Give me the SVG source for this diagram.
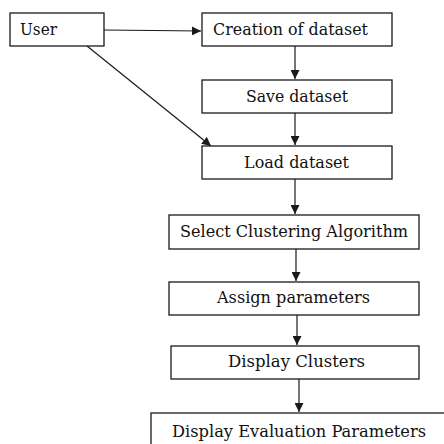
<svg xmlns="http://www.w3.org/2000/svg" width="444" height="444" viewBox="0 0 444 444">
<style>
.box{fill:#fff;stroke:#1a1a1a;stroke-width:1.3}
.t{font-family:"DejaVu Serif","Liberation Serif",serif;font-size:17px;fill:#111}
.c{stroke:#1a1a1a;stroke-width:1.2;fill:none}
</style>
<defs>
<marker id="ah" viewBox="0 0 10 10" refX="10" refY="5" markerWidth="9" markerHeight="9" markerUnits="userSpaceOnUse" orient="auto">
<path d="M0,0 L10,5 L0,10 Z" fill="#1a1a1a"/>
</marker>
</defs>
<rect width="444" height="444" fill="#fff"/>
<g id="connectors">
<line class="c" x1="104" y1="30" x2="201" y2="31" marker-end="url(#ah)"/>
<line class="c" x1="87" y1="46" x2="211" y2="146" marker-end="url(#ah)"/>
<line class="c" x1="295" y1="46" x2="295" y2="79" marker-end="url(#ah)"/>
<line class="c" x1="295" y1="113" x2="295" y2="145" marker-end="url(#ah)"/>
<line class="c" x1="295" y1="179" x2="295" y2="214" marker-end="url(#ah)"/>
<line class="c" x1="296" y1="249" x2="296" y2="281" marker-end="url(#ah)"/>
<line class="c" x1="297" y1="315" x2="297" y2="345" marker-end="url(#ah)"/>
<line class="c" x1="299" y1="379" x2="299" y2="412" marker-end="url(#ah)"/>
</g>
<g id="user"><rect class="box" x="10" y="13" width="94" height="33"/><text class="t" x="20" y="35" textLength="37" lengthAdjust="spacingAndGlyphs">User</text></g>
<g id="creation"><rect class="box" x="202" y="13" width="190" height="33"/><text class="t" x="213" y="35" textLength="155" lengthAdjust="spacingAndGlyphs">Creation of dataset</text></g>
<g id="save"><rect class="box" x="202" y="80" width="190" height="33"/><text class="t" x="246" y="102" textLength="102" lengthAdjust="spacingAndGlyphs">Save dataset</text></g>
<g id="load"><rect class="box" x="202" y="146" width="190" height="33"/><text class="t" x="244" y="168" textLength="105" lengthAdjust="spacingAndGlyphs">Load dataset</text></g>
<g id="select"><rect class="box" x="169" y="215" width="250" height="34"/><text class="t" x="180" y="237" textLength="228" lengthAdjust="spacingAndGlyphs">Select Clustering Algorithm</text></g>
<g id="assign"><rect class="box" x="169" y="282" width="250" height="33"/><text class="t" x="217" y="303" textLength="153" lengthAdjust="spacingAndGlyphs">Assign parameters</text></g>
<g id="display-clusters"><rect class="box" x="171" y="346" width="248" height="33"/><text class="t" x="228" y="367" textLength="137" lengthAdjust="spacingAndGlyphs">Display Clusters</text></g>
<g id="display-eval"><rect class="box" x="151" y="413" width="300" height="40"/><text class="t" x="172" y="437" textLength="254" lengthAdjust="spacingAndGlyphs">Display Evaluation Parameters</text></g>
</svg>
